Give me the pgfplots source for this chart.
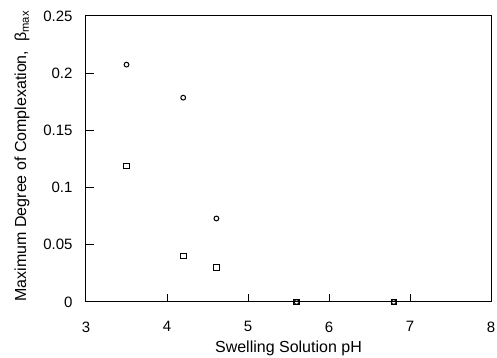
\documentclass[border=0pt]{standalone}
\usepackage{pgfplots}
\pgfplotsset{compat=1.18}
\usepackage{fontspec}
\setmainfont{Liberation Sans}
\begin{document}
\begin{tikzpicture}
\useasboundingbox (-86pt,-56pt) rectangle (411pt,302pt);
\begin{axis}[
  scale only axis,
  at={(0,0)}, anchor=origin,
  width=405pt, height=286pt,
  xmin=3, xmax=8, ymin=0, ymax=0.25,
  xtick={3,4,5,6,7,8},
  ytick={0,0.05,0.1,0.15,0.2,0.25},
  /pgf/number format/assume math mode=true,
  yticklabel={\pgfmathprintnumber[fixed,precision=2]{\tick}},
  tick align=inside,
  xtick pos=bottom, ytick pos=left,
  major tick length=8pt,
  axis line style={line width=1pt},
  tick style={line width=1pt, black},
  xticklabel style={font=\fontsize{15}{17}\selectfont, yshift=-16pt},
  yticklabel style={font=\fontsize{15}{17}\selectfont, xshift=-10pt},
  xlabel style={font=\fontsize{16}{18}\selectfont, at={(axis description cs:0.5,-0.123)}, anchor=north},
  ylabel style={font=\fontsize{16}{18}\selectfont, at={(axis description cs:-0.185,0.51)}, anchor=north, rotate=0},
  xlabel={Swelling Solution pH},
  ylabel={Maximum Degree of Complexation,\ \ β\textsubscript{max}},
  clip=false,
]
\addplot[only marks, mark=o, mark size=2.4pt, mark options={line width=1pt}] coordinates {
 (3.5,0.2075) (4.2,0.1786) (4.61,0.0730) (5.6,0) (6.8,0)
};
\addplot[only marks, mark=square, mark size=2.8pt, mark options={line width=1pt}] coordinates {
 (3.5,0.119) (4.2,0.0402) (4.61,0.0303) (5.6,0) (6.8,0)
};
\end{axis}
\end{tikzpicture}
\end{document}
